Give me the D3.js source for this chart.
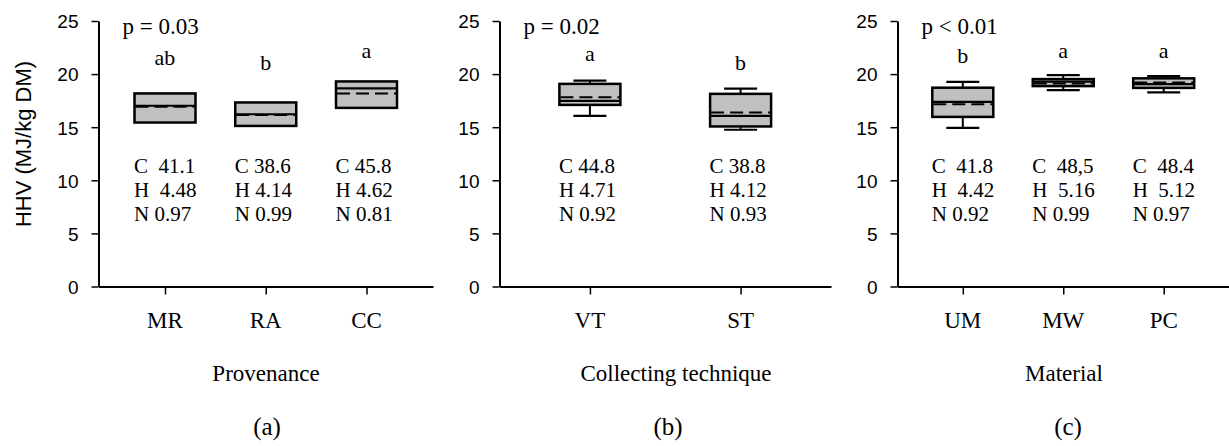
<!DOCTYPE html>
<html><head><meta charset="utf-8">
<script src="https://cdn.jsdelivr.net/npm/d3@7"></script>
<style>
html,body{margin:0;padding:0;background:#fff;}
svg{display:block;}
.serif{font-family:"Liberation Serif","Times New Roman",serif;fill:#000;white-space:pre;}
.sans{font-family:"Liberation Sans",Arial,sans-serif;fill:#000;}
</style></head>
<body>
<svg id="chart" width="1229" height="446"></svg>
<script>
// ---------- data ----------
const yTicks = [0, 5, 10, 15, 20, 25];
const yTitle = "HHV (MJ/kg DM)";

// Panel (a) Provenance
const catsA = ["MR", "RA", "CC"];
const q1A = [15.44, 15.12, 16.82];
const q3A = [18.18, 17.33, 19.31];
const medA = [17.02, 16.22, 18.65];
const meanA = [16.92, 16.15, 18.18];
const wLoA = [15.44, 15.12, 16.82];
const wHiA = [18.18, 17.33, 19.31];
const letA = ["ab", "b", "a"];
const letYA = [20.85, 20.4, 21.5];
const cA = ["C  41.1", "C 38.6", "C 45.8"];
const hA = ["H  4.48", "H 4.14", "H 4.62"];
const nA = ["N 0.97", "N 0.99", "N 0.81"];

// Panel (b) Collecting technique
const catsB = ["VT", "ST"];
const q1B = [17.1, 15.07];
const q3B = [19.08, 18.14];
const medB = [17.48, 16.07];
const meanB = [17.83, 16.38];
const wLoB = [16.07, 14.76];
const wHiB = [19.39, 18.64];
const letB = ["a", "b"];
const letYB = [21.2, 20.4];
const cB = ["C 44.8", "C 38.8"];
const hB = ["H 4.71", "H 4.12"];
const nB = ["N 0.92", "N 0.93"];

// Panel (c) Material
const catsC = ["UM", "MW", "PC"];
const q1C = [15.97, 18.87, 18.7];
const q3C = [18.72, 19.53, 19.6];
const medC = [17.39, 19.3, 19.05];
const meanC = [17.17, 19.12, 19.2];
const wLoC = [14.93, 18.49, 18.27];
const wHiC = [19.27, 19.9, 19.8];
const letC = ["b", "a", "a"];
const letYC = [21.07, 21.5, 21.5];
const cC = ["C  41.8", "C  48,5", "C  48.4"];
const hC = ["H  4.42", "H  5.16", "H  5.12"];
const nC = ["N 0.92", "N 0.99", "N 0.97"];

const pTexts = ["p = 0.03", "p = 0.02", "p < 0.01"];
const xTitles = ["Provenance", "Collecting technique", "Material"];
const panelTags = ["(a)", "(b)", "(c)"];
const compY = 10.66; // value level of first composition line
const pY = 23.8;

// ---------- build ----------
function rows(cats, q1, q3, med, mean, wLo, wHi, let_, letY, c, h, n) {
  return cats.map((k, i) => ({cat: k, q1: q1[i], q3: q3[i], med: med[i], mean: mean[i],
    lo: wLo[i], hi: wHi[i], letter: let_[i], letY: letY[i], comp: [c[i], h[i], n[i]]}));
}
const panels = [
  {rows: rows(catsA, q1A, q3A, medA, meanA, wLoA, wHiA, letA, letYA, cA, hA, nA), x0: 98.5, x1: 433, pad: 0.66, tx: 266, gx: 267},
  {rows: rows(catsB, q1B, q3B, medB, meanB, wLoB, wHiB, letB, letYB, cB, hB, nB), x0: 499.5, x1: 831, pad: 0.6, tx: 676, gx: 668},
  {rows: rows(catsC, q1C, q3C, medC, meanC, wLoC, wHiC, letC, letYC, cC, hC, nC), x0: 897.5, x1: 1229, pad: 0.65, tx: 1064, gx: 1068}
];

const svg = d3.select("#chart");
const y = d3.scaleLinear().domain([0, 25]).range([286.5, 21]);
const BW = 61, CW = 33;

panels.forEach((p, pi) => {
  const x = d3.scalePoint().domain(p.rows.map(r => r.cat)).range([p.x0, p.x1]).padding(p.pad);
  const g = svg.append("g");

  // y axis
  const ya = g.append("g").attr("transform", `translate(${p.x0},0)`)
    .call(d3.axisLeft(y).tickValues(yTicks).tickSize(7).tickSizeOuter(0).tickPadding(13));
  ya.attr("font-family", null).attr("font-size", null);
  ya.select(".domain").attr("stroke", "#000").attr("stroke-width", 2);
  ya.selectAll(".tick line").attr("stroke", "#000").attr("stroke-width", 1.5);
  ya.selectAll(".tick text").attr("class", "sans").style("font-size", "19px").attr("dy", "0.36em");

  // x axis
  const xa = g.append("g").attr("transform", `translate(0,${y(0)})`)
    .call(d3.axisBottom(x).tickSize(8).tickSizeOuter(0).tickFormat(""));
  xa.select(".domain").attr("stroke", "#000").attr("stroke-width", 2);
  xa.selectAll(".tick line").attr("stroke", "#000").attr("stroke-width", 1.5);

  // category labels
  g.selectAll(".cat").data(p.rows).join("text").attr("class", "serif")
    .attr("x", d => x(d.cat)).attr("y", 328).attr("text-anchor", "middle")
    .style("font-size", "23px").text(d => d.cat);

  // boxes
  const b = g.selectAll(".box").data(p.rows).join("g");
  b.filter(d => d.hi > d.q3).each(function(d) {
    const s = d3.select(this), cx = x(d.cat);
    s.append("line").attr("x1", cx).attr("x2", cx).attr("y1", y(d.q3)).attr("y2", y(d.hi)).attr("stroke", "#000").attr("stroke-width", 2);
    s.append("line").attr("x1", cx - CW / 2).attr("x2", cx + CW / 2).attr("y1", y(d.hi)).attr("y2", y(d.hi)).attr("stroke", "#000").attr("stroke-width", 2.2);
  });
  b.filter(d => d.lo < d.q1).each(function(d) {
    const s = d3.select(this), cx = x(d.cat);
    s.append("line").attr("x1", cx).attr("x2", cx).attr("y1", y(d.q1)).attr("y2", y(d.lo)).attr("stroke", "#000").attr("stroke-width", 2);
    s.append("line").attr("x1", cx - CW / 2).attr("x2", cx + CW / 2).attr("y1", y(d.lo)).attr("y2", y(d.lo)).attr("stroke", "#000").attr("stroke-width", 2.2);
  });
  b.append("rect").attr("x", d => x(d.cat) - BW / 2).attr("width", BW)
    .attr("y", d => y(d.q3)).attr("height", d => y(d.q1) - y(d.q3))
    .attr("fill", "#c0c0c0").attr("stroke", "#000").attr("stroke-width", 2.5);
  b.append("line").attr("x1", d => x(d.cat) - BW / 2).attr("x2", d => x(d.cat) + BW / 2)
    .attr("y1", d => y(d.med)).attr("y2", d => y(d.med)).attr("stroke", "#000").attr("stroke-width", 2.2);
  b.append("line").attr("x1", d => x(d.cat) - BW / 2 + 1).attr("x2", d => x(d.cat) + BW / 2 - 1)
    .attr("y1", d => y(d.mean)).attr("y2", d => y(d.mean)).attr("stroke", "#000").attr("stroke-width", 2)
    .attr("stroke-dasharray", "13,6");

  // significance letters
  g.selectAll(".let").data(p.rows).join("text").attr("class", "serif")
    .attr("x", d => x(d.cat)).attr("y", d => y(d.letY)).attr("text-anchor", "middle")
    .style("font-size", "22px").text(d => d.letter);

  // composition text
  p.rows.forEach(d => {
    d.comp.forEach((t, i) => {
      g.append("text").attr("class", "serif").attr("x", x(d.cat) - 31).attr("y", y(compY) + i * 24)
        .style("font-size", "21px").text(t);
    });
  });

  // p value
  g.append("text").attr("class", "serif").attr("x", p.x0 + 24).attr("y", y(pY))
    .style("font-size", "23px").text(pTexts[pi]);

  // axis title and tag
  g.append("text").attr("class", "serif").attr("x", p.tx).attr("y", 381).attr("text-anchor", "middle")
    .style("font-size", "23px").text(xTitles[pi]);
  g.append("text").attr("class", "serif").attr("x", p.gx).attr("y", 435).attr("text-anchor", "middle")
    .style("font-size", "25px").text(panelTags[pi]);
});

svg.append("text").attr("class", "sans").attr("transform", "translate(31,144) rotate(-90)")
  .attr("text-anchor", "middle").style("font-size", "22px").text(yTitle);
</script>
</body></html>
